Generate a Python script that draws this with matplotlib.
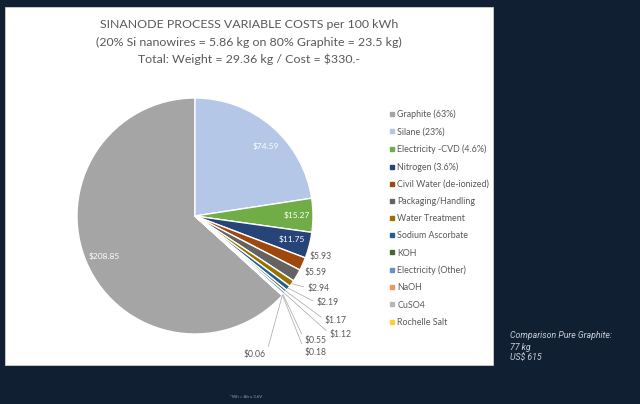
import matplotlib
matplotlib.use("Agg")
import matplotlib.pyplot as plt
from matplotlib.patches import Rectangle
from matplotlib.lines import Line2D
import numpy as np

# ---------------- data ----------------
categories = ["Graphite (63%)", "Silane (23%)", "Electricity -CVD (4.6%)", "Nitrogen (3.6%)",
              "Civil Water (de-ionized)", "Packaging/Handling", "Water Treatment",
              "Sodium Ascorbate", "KOH", "Electricity (Other)", "NaOH", "CuSO4", "Rochelle Salt"]
costs = [208.85, 74.59, 15.27, 11.75, 5.93, 5.59, 2.94, 2.19, 1.17, 1.12, 0.55, 0.18, 0.06]
value_labels = ["$208.85", "$74.59", "$15.27", "$11.75", "$5.93", "$5.59", "$2.94",
                "$2.19", "$1.17", "$1.12", "$0.55", "$0.18", "$0.06"]
colors = ["#A5A5A5", "#B4C7E7", "#70AD47", "#264478", "#9E480E", "#636363", "#997300",
          "#255E91", "#43682B", "#698ED0", "#F1975A", "#B7B7B7", "#FFCD33"]

title_lines = ["SINANODE PROCESS VARIABLE COSTS per 100 kWh",
               "(20% Si nanowires = 5.86 kg on 80% Graphite = 23.5 kg)",
               "Total: Weight = 29.36 kg / Cost = $330.-"]
side_note = ["Comparison Pure Graphite:", "77 kg", "US$ 615"]
footnote = "*Wh = Ah x 3.6V"

# ---------------- layout (pixel coords, y from top) ----------------
W, H = 640, 404
def P(x, y):
    return (x, H - y)

PIE_CX, PIE_CY, PIE_R = 195, 216, 118
FIRST_SLICE_ANGLE = 132.3          # Excel-style, clockwise from 12 o'clock
# inside labels: (radius fraction, angle offset in degrees)
inside_pos = {0: (0.84, 0), 1: (0.84, -5), 2: (0.86, 0), 3: (0.84, 1)}
# outside label anchor (x, y, ha, leader?)
outside_pos = {
    4: (310, 256, "left", False),
    5: (305, 273, "left", False),
    6: (308, 288, "left", True),
    7: (317, 303, "left", True),
    8: (325, 320, "left", True),
    9: (330, 334, "left", True),
    10: (305, 341, "left", True),
    11: (305, 352, "left", True),
    12: (266, 355, "right", True),
}

TXT = "#595959"
BG = "#111f33"
FONT = ["Lato", "DejaVu Sans"]

fig = plt.figure(figsize=(W / 100, H / 100), dpi=100, facecolor=BG)
ax = fig.add_axes([0, 0, 1, 1])
ax.set_facecolor(BG)

# white panel
ax.add_patch(Rectangle(P(5, 365), 488, 358, facecolor="white", edgecolor="#d0d0d0",
                       linewidth=0.6, zorder=0))

wedges, _ = ax.pie(costs, colors=colors, startangle=90 - FIRST_SLICE_ANGLE,
                   counterclock=False, center=P(PIE_CX, PIE_CY), radius=PIE_R,
                   wedgeprops=dict(edgecolor="white", linewidth=1.0))

cx, cy = P(PIE_CX, PIE_CY)
for i, w in enumerate(wedges):
    mid = np.deg2rad((w.theta1 + w.theta2) / 2)
    if i in inside_pos:
        rf, dang = inside_pos[i]
        a = mid + np.deg2rad(dang)
        ax.text(cx + rf * PIE_R * np.cos(a), cy + rf * PIE_R * np.sin(a),
                value_labels[i], color="white", fontsize=6.0, ha="center", va="center",
                family=FONT, zorder=5)
    else:
        lx, ly, ha, leader = outside_pos[i]
        edge = (cx + PIE_R * np.cos(mid), cy + PIE_R * np.sin(mid))
        if leader:
            ax.annotate(value_labels[i], xy=edge, xytext=P(lx, ly), ha=ha, va="center",
                        fontsize=6.2, color=TXT, family=FONT, zorder=5,
                        arrowprops=dict(arrowstyle="-", color="#a6a6a6", lw=0.5,
                                        shrinkA=1, shrinkB=0,
                                        relpos=(0, 0.5) if ha == "left" else (1, 0.5)))
        else:
            ax.text(*P(lx, ly), value_labels[i], ha=ha, va="center", fontsize=6.2,
                    color=TXT, family=FONT, zorder=5)

ax.set_xlim(0, W)
ax.set_ylim(0, H)
ax.set_aspect("equal")
ax.axis("off")

# title
for line, y in zip(title_lines, [24, 42, 59]):
    ax.text(*P(249, y), line, ha="center", va="center", fontsize=8.9, color=TXT, family=FONT)

# legend
handles = [Line2D([], [], marker="s", ls="", color=c, markersize=2.6) for c in colors]
leg = ax.legend(handles, categories, loc="upper left",
                bbox_to_anchor=(385 / W, 1 - 105 / H), frameon=False,
                prop=dict(family=FONT, size=6.4), labelcolor=TXT,
                handlelength=0.5, handletextpad=0.4, labelspacing=0.92, borderpad=0)

# side note
for line, y in zip(side_note, [335, 347, 358]):
    ax.text(*P(510, y), line, ha="left", va="center", fontsize=6.3, color="#c9d0da",
            style="italic", family=["Roboto", "DejaVu Sans"])

ax.text(*P(230, 397), footnote, ha="left", va="center", fontsize=3.2, color="#9aa3b0",
        family=FONT)

fig.savefig("out.png", dpi=100, facecolor=BG)
